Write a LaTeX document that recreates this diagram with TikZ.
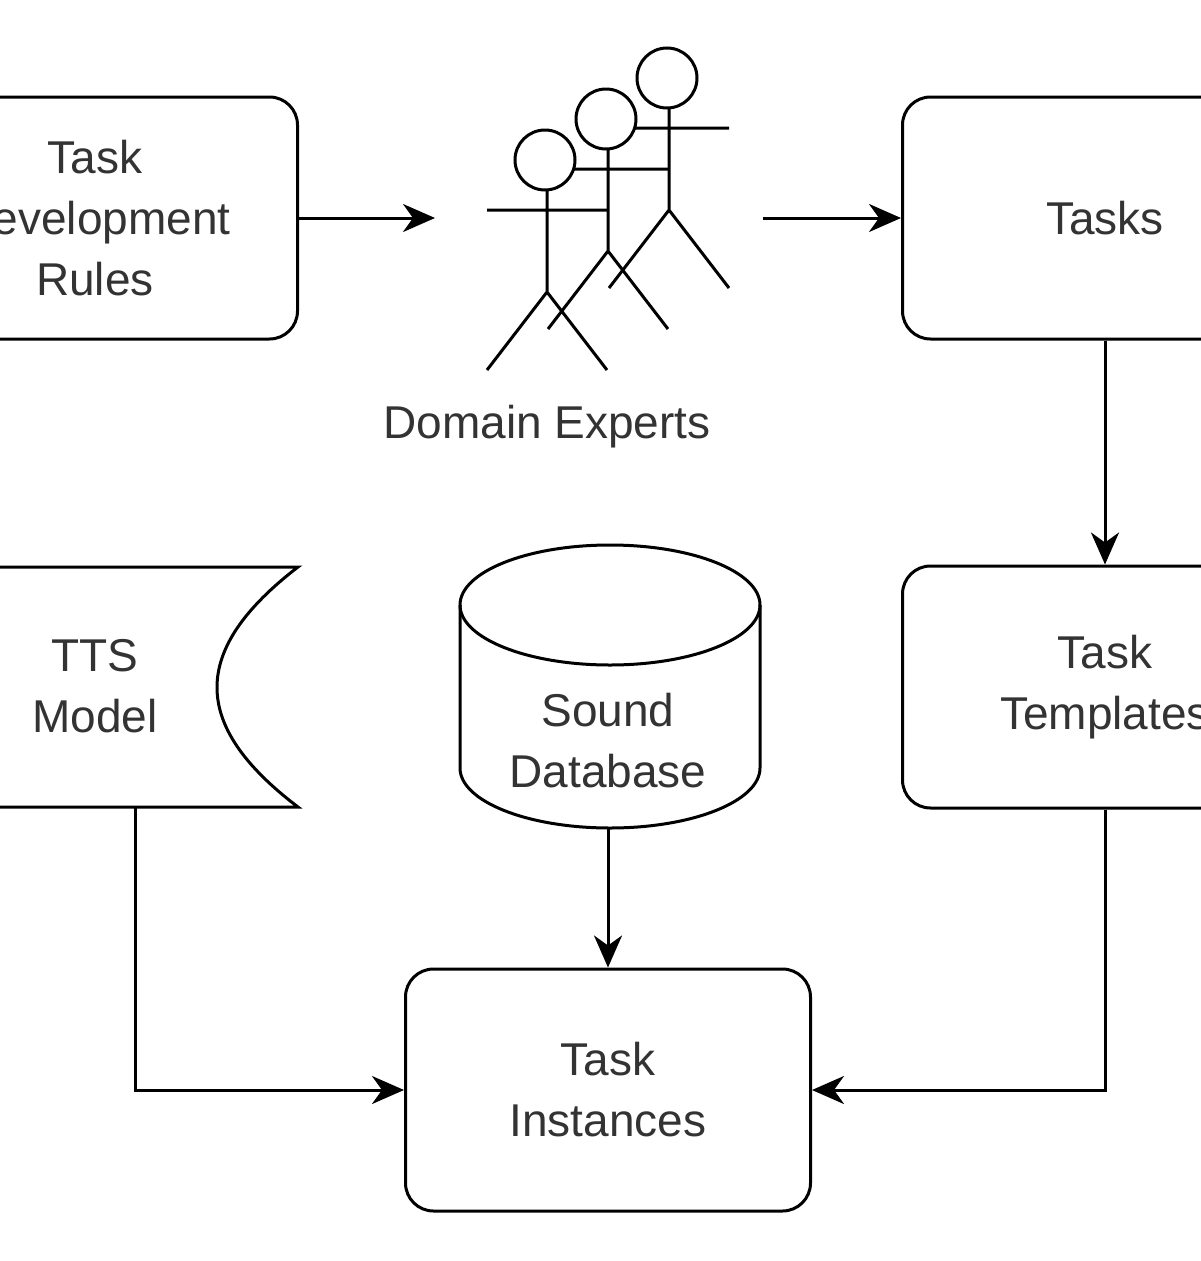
\documentclass[tikz,border=0pt]{standalone}
\usepackage{fontspec}
\setmainfont{Liberation Sans}
\usetikzlibrary{arrows.meta,shapes.geometric}
\begin{document}
\begin{tikzpicture}[x=1pt,y=-1pt,line width=3pt,
  box/.style={draw,rounded corners=28pt,minimum width=405pt,minimum height=242pt,align=center,font=\fontsize{46}{61}\selectfont,text=black!80},
  lbl/.style={align=center,font=\fontsize{46}{61}\selectfont,text=black!80},
  arr/.style={-{Stealth[length=32pt,width=28pt,inset=10pt]}}]
\useasboundingbox (0,0) rectangle (1200,1261);
\node[box] (rules) at (95,218) {Task\\Development\\Rules};
\node[box] (tasks) at (1105,218) {Tasks};
\node[box] (tmpl) at (1105,687) {Task\\Templates};
\node[box] (inst) at (608,1090) {Task\\Instances};
% TTS model
\draw (-110,567) -- (298,567) .. controls (190,650) and (190,725) .. (298,807) -- (-110,807);
\node[lbl] (tts) at (95,686) {TTS\\Model};
\coordinate (ttsb) at (135,807);
% cylinder
\draw (460,605) -- (460,768) arc[start angle=180,end angle=0,x radius=150,y radius=60] -- (760,605);
\draw (610,605) ellipse[x radius=150,y radius=60];
\node[lbl] (db) at (608,741) {Sound\\Database};
\coordinate (dbb) at (608,828);
% stick figures back to front
\foreach \i/\dx/\dy in {3/122/-82,2/61/-41,1/0/0}{
 \begin{scope}[shift={(\dx,\dy)}]
  \draw (547,190) -- (547,292) (487,210) -- (607,210) (487,370) -- (547,292) -- (607,370);
  \draw[fill=white] (545,160) circle[radius=30];
 \end{scope}}
\node[lbl] (dom) at (547,427) {Domain Experts};
\coordinate (a1) at (435,218);
\coordinate (a2) at (763,218);
\draw[arr] (rules.east) -- (a1);
\draw[arr] (a2) -- (tasks.west);
\draw[arr] (tasks.south) -- (tmpl.north);
\draw[arr] (dbb) -- (inst.north);
\draw[arr] (ttsb) |- (inst.west);
\draw[arr] (tmpl.south) |- (inst.east);
\end{tikzpicture}
\end{document}
